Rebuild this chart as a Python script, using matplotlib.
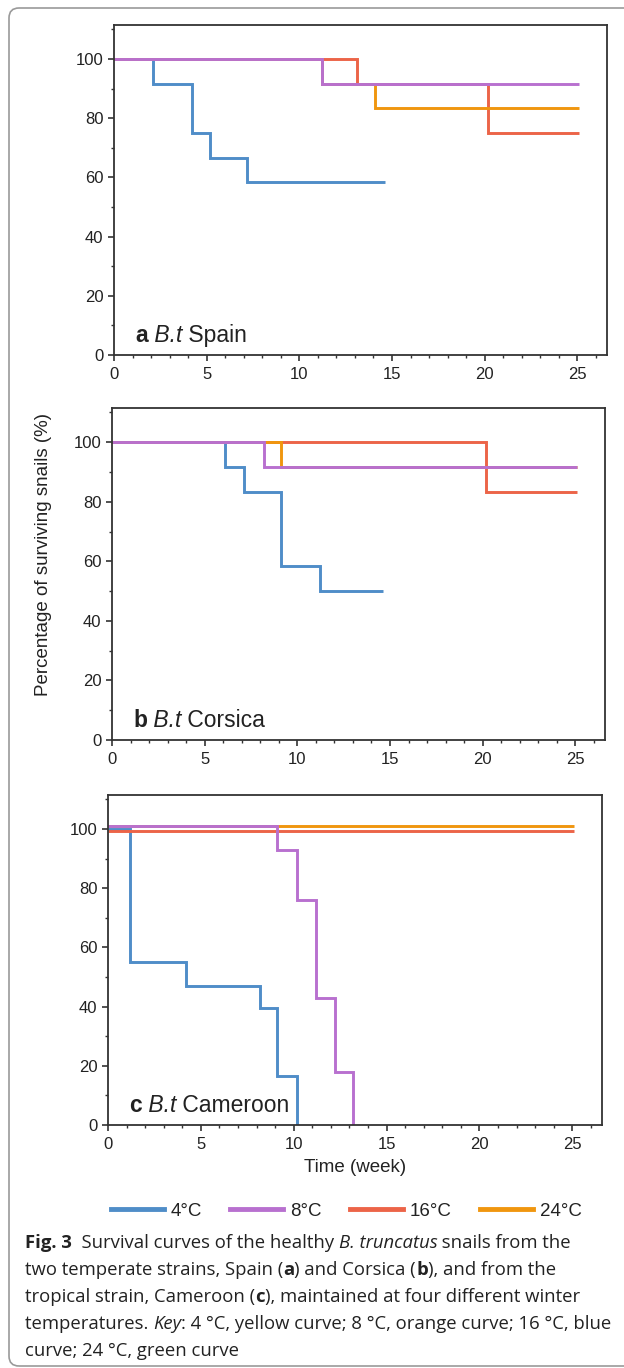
import matplotlib
matplotlib.use("Agg")
import matplotlib.pyplot as plt
from matplotlib.patches import FancyBboxPatch
from matplotlib.lines import Line2D
from matplotlib.ticker import MultipleLocator

# ---------------- data ----------------
temps = ["4°C", "8°C", "16°C", "24°C"]
colors = {"4°C": "#4f8dc8", "8°C": "#b870cf", "16°C": "#ec6448", "24°C": "#f0960f"}

# Panel a: Spain
spain_4_t = [0, 2.1, 4.2, 5.2, 7.2, 14.6]
spain_4_s = [100, 91.7, 75.0, 66.7, 58.3, 58.3]
spain_8_t = [0, 11.2, 25.1]
spain_8_s = [100, 91.7, 91.7]
spain_16_t = [0, 13.1, 20.2, 25.1]
spain_16_s = [100, 91.7, 75.0, 75.0]
spain_24_t = [0, 11.2, 14.1, 25.1]
spain_24_s = [100, 91.7, 83.3, 83.3]

# Panel b: Corsica
cors_4_t = [0, 6.1, 7.1, 9.1, 11.2, 14.6]
cors_4_s = [100, 91.7, 83.3, 58.3, 50.0, 50.0]
cors_8_t = [0, 8.2, 25.1]
cors_8_s = [100, 91.7, 91.7]
cors_16_t = [0, 20.2, 25.1]
cors_16_s = [100, 83.3, 83.3]
cors_24_t = [0, 9.1, 25.1]
cors_24_s = [100, 91.7, 91.7]

# Panel c: Cameroon
cam_4_t = [0, 1.2, 4.2, 8.2, 9.1, 10.2]
cam_4_s = [100, 55.0, 47.0, 39.5, 16.5, 0]
cam_8_t = [0, 9.1, 10.2, 11.2, 12.2, 13.2]
cam_8_s = [100.9, 93.0, 76.0, 43.0, 18.0, 0]
cam_16_t = [0, 25.1]
cam_16_s = [99.4, 99.4]
cam_24_t = [0, 25.1]
cam_24_s = [100.9, 100.9]

panels = [
    ("a", "B.t", "Spain", {"4°C": (spain_4_t, spain_4_s), "8°C": (spain_8_t, spain_8_s),
                           "16°C": (spain_16_t, spain_16_s), "24°C": (spain_24_t, spain_24_s)}),
    ("b", "B.t", "Corsica", {"4°C": (cors_4_t, cors_4_s), "8°C": (cors_8_t, cors_8_s),
                             "16°C": (cors_16_t, cors_16_s), "24°C": (cors_24_t, cors_24_s)}),
    ("c", "B.t", "Cameroon", {"4°C": (cam_4_t, cam_4_s), "8°C": (cam_8_t, cam_8_s),
                              "16°C": (cam_16_t, cam_16_s), "24°C": (cam_24_t, cam_24_s)}),
]
draw_order = ["4°C", "16°C", "24°C", "8°C"]

ylabel = "Percentage of surviving snails (%)"
xlabel = "Time (week)"

caption_lines = [
    [("Fig. 3", "bold", "normal"), ("  Survival curves of the healthy ", "normal", "normal"),
     ("B. truncatus", "normal", "italic"), (" snails from the", "normal", "normal")],
    [("two temperate strains, Spain (", "normal", "normal"), ("a", "bold", "normal"),
     (") and Corsica (", "normal", "normal"), ("b", "bold", "normal"),
     ("), and from the", "normal", "normal")],
    [("tropical strain, Cameroon (", "normal", "normal"), ("c", "bold", "normal"),
     ("), maintained at four different winter", "normal", "normal")],
    [("temperatures. ", "normal", "normal"), ("Key", "normal", "italic"),
     (": 4 °C, yellow curve; 8 °C, orange curve; 16 °C, blue", "normal", "normal")],
    [("curve; 24 °C, green curve", "normal", "normal")],
]

# ---------------- figure ----------------
W, H = 624, 1368
DPI = 100
plt.rcParams["font.family"] = ["Liberation Sans", "DejaVu Sans"]
fig = plt.figure(figsize=(W / DPI, H / DPI), dpi=DPI)
fig.patch.set_facecolor("white")

# outer rounded frame
frame = FancyBboxPatch((9 / W, 1 - 1366 / H), (660 - 9) / W, (1366 - 8) / H,
                       boxstyle="round,pad=0,rounding_size=0.016",
                       transform=fig.transFigure, fill=False,
                       edgecolor="#9a9a9a", linewidth=1.2, mutation_aspect=W / H,
                       clip_on=False)
fig.patches.append(frame)

# axes rectangles in pixels (left, top, right, bottom)
boxes = [(114, 25, 607, 355), (112, 408, 605, 740), (108, 795, 602, 1125)]

renderer = fig.canvas.get_renderer()


def put_runs(x_px, y_px, parts, size, family, color="#222222", draw=True):
    x = x_px
    for txt, weight, style in parts:
        t = fig.text(x / W, 1 - y_px / H, txt, fontsize=size, family=family,
                     fontweight=weight, fontstyle=style, color=color,
                     va="baseline", ha="left")
        bb = t.get_window_extent(renderer)
        x += bb.width
        if not draw:
            t.remove()
    return x - x_px


spine_c = "#333333"
for (l, t, r, b), (let, gen, place, curves) in zip(boxes, panels):
    ax = fig.add_axes([l / W, 1 - b / H, (r - l) / W, (b - t) / H])
    for name in draw_order:
        xs, ys = curves[name]
        ax.step(xs, ys, where="post", color=colors[name], lw=2.1,
                solid_joinstyle="miter", solid_capstyle="butt")
    ax.set_xlim(0, 26.6)
    ax.set_ylim(0, 111.5)
    ax.xaxis.set_major_locator(MultipleLocator(5))
    ax.xaxis.set_minor_locator(MultipleLocator(1))
    ax.yaxis.set_major_locator(MultipleLocator(20))
    ax.yaxis.set_minor_locator(MultipleLocator(10))
    ax.tick_params(which="major", direction="out", length=4.5, width=1.2,
                   colors=spine_c, labelsize=12, labelcolor="#222222")
    ax.tick_params(axis="y", which="major", pad=3)
    ax.tick_params(axis="x", which="major", pad=4)
    ax.tick_params(which="minor", direction="out", length=2.5, width=1.0, colors=spine_c)
    for s in ax.spines.values():
        s.set_color(spine_c)
        s.set_linewidth(1.3)
    # panel label
    put_runs(l + 21, b - 13, [(let, "bold", "normal"), (" " + gen, "normal", "italic"),
                              (" " + place, "normal", "normal")], 16.5, ["Liberation Sans"])

fig.text(44 / W, 1 - 554 / H, ylabel, rotation=90, fontsize=13.5, ha="center",
         va="center", color="#222222")
fig.text(((108 + 602) / 2) / W, 1 - 1168 / H, xlabel, fontsize=13.5, ha="center",
         va="center", color="#222222")

handles = [Line2D([], [], color=colors[n], lw=3.5) for n in temps]
fig.legend(handles, temps, loc="center", bbox_to_anchor=(346 / W, 1 - 1211 / H),
           ncol=4, frameon=False, fontsize=13.5, handlelength=2.85, handletextpad=0.35,
           columnspacing=1.5, labelcolor="#222222")

# caption: size fitted so that the widest line spans the target width
cap_family = ["Open Sans", "DejaVu Sans"]
ref_size = 10.0
widths = [put_runs(25, 1300, parts, ref_size, cap_family, draw=False) for parts in caption_lines]
cap_size = ref_size * 585.0 / max(widths)
base_y = [1248, 1275, 1302, 1329, 1356]
for parts, yb in zip(caption_lines, base_y):
    put_runs(25, yb, parts, cap_size, cap_family)

fig.savefig("out.png", dpi=DPI, facecolor="white")
